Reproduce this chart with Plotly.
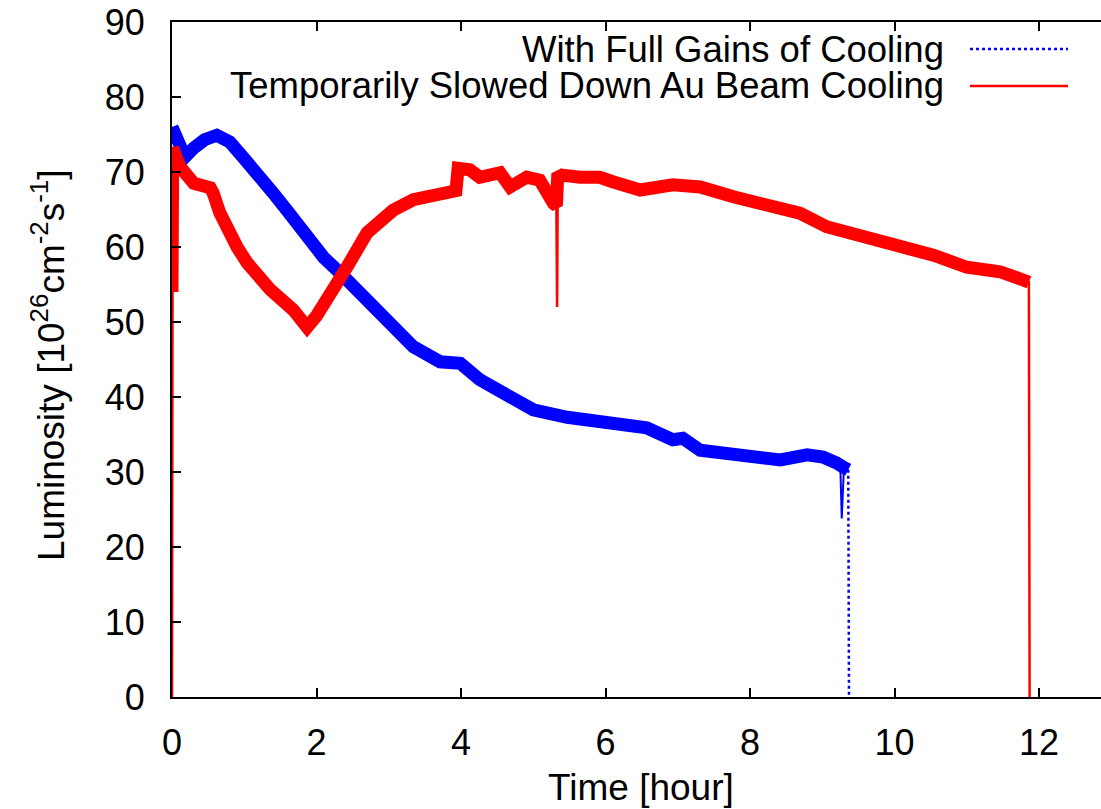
import plotly.graph_objects as go

# ---- data (time in hours, luminosity in 1e26 cm^-2 s^-1)
blue_t = [0.0, 0.05, 0.18, 0.3, 0.45, 0.62, 0.8, 0.98, 1.1, 1.22, 1.4, 1.59, 1.91, 2.1, 2.33,
          2.7, 2.88, 3.06, 3.34, 3.71, 3.99, 4.26, 4.64, 5.0, 5.47, 5.83, 6.38, 6.57, 6.93,
          7.07, 7.31, 7.68, 8.1, 8.42, 8.79, 9.01, 9.2, 9.25, 9.27, 9.3, 9.36, 9.37]
blue_l = [76.0, 74.5, 72.0, 73.2, 74.3, 74.9, 74.0, 72.0, 70.8, 69.3, 67.2, 64.9, 60.5, 58.6,
          56.5, 52.9, 50.7, 48.9, 46.7, 44.7, 44.5, 42.3, 40.0, 38.3, 37.3, 36.9, 36.3, 35.9,
          34.3, 34.5, 32.9, 32.5, 32.3, 31.6, 32.3, 32.0, 31.2, 30.7, 23.8, 30.6, 30.3, 0.0]
blue_spikes = [9.27]

red_t = [0.0, 0.0, 0.01, 0.11, 0.3, 0.53, 0.57, 0.66, 0.76, 0.9, 1.04, 1.2, 1.36, 1.68, 1.87,
         2.0, 2.15, 2.42, 2.7, 2.88, 3.06, 3.34, 3.8, 3.93, 3.96, 4.12, 4.26, 4.54, 4.68, 4.91,
         5.09, 5.19, 5.28, 5.32, 5.33, 5.34, 5.37, 5.65, 5.92, 6.1, 6.48, 6.93, 7.31, 7.77,
         8.23, 8.69, 9.06, 9.61, 10.08, 10.54, 11.0, 11.46, 11.78, 11.86, 11.87]
red_l = [0.0, 54.0, 73.2, 70.7, 68.5, 67.9, 67.2, 64.6, 62.3, 60.0, 57.9, 56.0, 54.3, 51.6,
         49.3, 50.8, 52.9, 57.3, 61.9, 63.2, 64.9, 66.3, 67.2, 67.5, 70.5, 70.3, 69.3, 69.9,
         68.0, 69.3, 68.9, 66.7, 65.8, 65.5, 52.0, 69.8, 69.6, 69.3, 69.3, 68.7, 67.6, 68.3,
         68.0, 66.7, 65.4, 64.5, 62.7, 61.4, 60.0, 58.9, 57.3, 56.7, 55.6, 55.3, 0.0]
red_spikes = [5.33]

x_ticks = [0, 2, 4, 6, 8, 10, 12]
y_ticks = [0, 10, 20, 30, 40, 50, 60, 70, 80, 90]

series_names = ["With Full Gains of Cooling", "Temporarily Slowed Down Au Beam Cooling"]

BLUE = "#0000ff"
RED = "#ff0000"
FONT = "Liberation Sans, Arial, Helvetica, sans-serif"
BAND = 13

fig = go.Figure()

# blue: dense noisy band (thick), thin details, dotted final drop
body_b = [i for i in range(len(blue_t) - 1) if blue_t[i] not in blue_spikes]
fig.add_trace(go.Scatter(x=[blue_t[i] for i in body_b], y=[blue_l[i] for i in body_b],
                         mode="lines", line=dict(color=BLUE, width=BAND),
                         showlegend=False, hoverinfo="skip"))
fig.add_trace(go.Scatter(x=blue_t[:-1], y=blue_l[:-1], mode="lines",
                         line=dict(color=BLUE, width=2), showlegend=False, hoverinfo="skip"))
fig.add_trace(go.Scatter(x=blue_t[-2:], y=blue_l[-2:], mode="lines",
                         line=dict(color=BLUE, width=2.5, dash="dot"),
                         name=series_names[0], showlegend=False))

# red: thick band plus thin full series (shows the spikes and drops)
body_r = [i for i in range(1, len(red_t) - 1) if red_t[i] not in red_spikes]
fig.add_trace(go.Scatter(x=[red_t[i] for i in body_r], y=[red_l[i] for i in body_r],
                         mode="lines", line=dict(color=RED, width=BAND),
                         showlegend=False, hoverinfo="skip"))
fig.add_trace(go.Scatter(x=red_t, y=red_l, mode="lines", line=dict(color=RED, width=2.5),
                         name=series_names[1], showlegend=False))

L, T, B = 172, 22, 112
W, H = 1101, 809
pw = W - L
ph = H - T - B


def px(x):
    return (x - L) / pw


def py(y):
    return (H - B - y) / ph


# manual gnuplot-style legend (text left of sample)
for name, ypix, col, dash in [(series_names[0], 49, BLUE, "dot"), (series_names[1], 86, RED, "solid")]:
    fig.add_annotation(text=name, xref="paper", yref="paper", x=px(946), y=py(ypix),
                       xanchor="right", yanchor="middle", showarrow=False,
                       font=dict(size=36.5, color="black", family=FONT))
    fig.add_shape(type="line", xref="paper", yref="paper", x0=px(970), x1=px(1068),
                  y0=py(ypix), y1=py(ypix), line=dict(color=col, width=2.5, dash=dash))

fig.add_annotation(text="Time [hour]", xref="paper", yref="paper", x=px(641), y=py(788),
                   xanchor="center", yanchor="middle", showarrow=False,
                   font=dict(size=37, color="black", family=FONT))
fig.add_annotation(text="Luminosity [10<sup>26</sup>cm<sup>-2</sup>s<sup>-1</sup>]",
                   xref="paper", yref="paper", x=px(48), y=py(365), textangle=-90,
                   xanchor="center", yanchor="middle", showarrow=False,
                   font=dict(size=37, color="black", family=FONT))

fig.update_layout(
    width=W, height=H,
    margin=dict(l=L, r=0, t=T, b=B, pad=0),
    paper_bgcolor="white", plot_bgcolor="white",
    font=dict(family=FONT, size=36, color="black"),
    xaxis=dict(range=[0, 12.858], tickvals=x_ticks, ticktext=[str(v) for v in x_ticks],
               showgrid=False, zeroline=False, showline=True, linecolor="black", linewidth=2,
               mirror="ticks", ticks="inside", ticklen=9, tickwidth=2, tickcolor="black",
               ticklabelstandoff=13),
    yaxis=dict(range=[0, 90], tickvals=y_ticks, ticktext=[str(v) for v in y_ticks],
               showgrid=False, zeroline=False, showline=True, linecolor="black", linewidth=2,
               mirror=False, ticks="inside", ticklen=9, tickwidth=2, tickcolor="black",
               ticklabelstandoff=18),
)

fig.write_html("out.html")
